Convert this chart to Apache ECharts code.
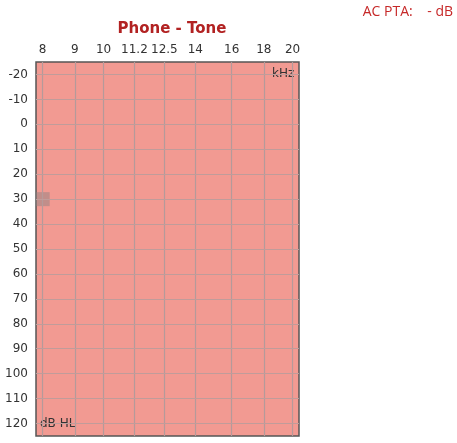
<!DOCTYPE html>
<html><head><meta charset="utf-8">
<script src="https://cdn.jsdelivr.net/npm/echarts@6/dist/echarts.min.js"></script>
<style>html,body{margin:0;padding:0;background:#fff}#c{width:457px;height:443px}</style>
</head><body><div id="c"></div>
<script>
const freqTicks = [8, 9, 10, 11.2, 12.5, 14, 16, 18, 20];
const dbTicks = [-20, -10, 0, 10, 20, 30, 40, 50, 60, 70, 80, 90, 100, 110, 120];
const markerFreq = [8];
const markerDb = [30];

const lg = f => Math.log2(f);
const vLines = freqTicks.map(f => [{coord:[lg(f), -25], label:{formatter: String(f)}}, {coord:[lg(f), 125]}]);
const hLines = dbTicks.map(d => ({yAxis: d}));

const chart = echarts.init(document.getElementById('c'));
chart.setOption({
  animation:false,
  title:{text:'Phone - Tone', left:167, top:17, textAlign:'center',
    textStyle:{color:'#b22222', fontSize:15, fontWeight:'bold', fontFamily:'DejaVu Sans'}},
  graphic:[
    {type:'text', right:4, top:5, style:{text:'AC PTA:    - dB', fill:'#c62828', fontSize:14, fontFamily:'Open Sans'}},
    {type:'text', left:272, top:68, style:{text:'kHz', fill:'#333', fontSize:12, fontFamily:'DejaVu Sans'}},
    {type:'text', left:40, top:418, style:{text:'dB HL', fill:'#333', fontSize:12, fontFamily:'DejaVu Sans'}}
  ],
  grid:{left:36, top:62, width:263, height:374, show:true, backgroundColor:'#f29a92', borderColor:'#555', borderWidth:1.5},
  xAxis:{type:'value', min:3-0.0354, max:3+1.356, axisLabel:{show:false}, axisTick:{show:false}, splitLine:{show:false}, axisLine:{show:false}},
  yAxis:{type:'value', inverse:true, min:-25, max:125, interval:5,
    axisLabel:{formatter:v => (v % 10 === 0 ? String(v) : ''), color:'#333', fontSize:12, fontFamily:'DejaVu Sans', margin:8},
    axisTick:{show:false}, splitLine:{show:false}, axisLine:{show:false}},
  series:[
    {type:'line', data:[], markLine:{silent:true, symbol:'none', animation:false,
      lineStyle:{color:'#b59a9a', width:1.2, type:'solid'},
      label:{show:true, position:'start', color:'#333', fontSize:12, fontFamily:'DejaVu Sans', distance:6},
      data: vLines}},
    {type:'line', data:[], markLine:{silent:true, symbol:'none', animation:false,
      lineStyle:{color:'#c09c9a', width:1, type:'solid'}, label:{show:false}, data: hLines}},
    {type:'scatter', symbol:'rect', symbolSize:14, itemStyle:{color:'rgba(140,130,130,0.6)'},
      data: markerFreq.map((f,i)=>[lg(f), markerDb[i]])}
  ]
});
</script></body></html>
